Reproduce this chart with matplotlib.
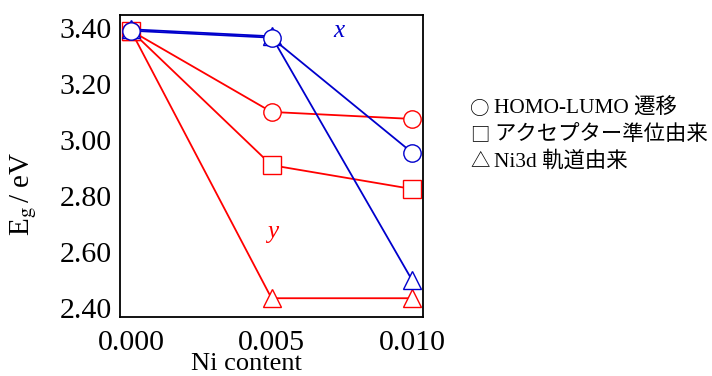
import matplotlib
matplotlib.use('Agg')
import matplotlib.pyplot as plt

# Ni content on x
ni = [0.000, 0.005, 0.010]

# y series (red)
y_homo = [3.39, 3.10, 3.075]
y_acc = [3.39, 2.91, 2.825]
y_ni3d = [3.39, 2.435, 2.435]

# x series (blue)
x_homo = [3.39, 3.365, 2.955]
x_ni3d = [3.395, 3.37, 2.50]

yticks = [2.40, 2.60, 2.80, 3.00, 3.20, 3.40]
xticks = [0.000, 0.005, 0.010]

legend_marks = ['○', '□', '△']
legend_texts = ['HOMO-LUMO 遷移', 'アクセプター準位由来', 'Ni3d 軌道由来']

plt.rcParams['font.family'] = ['Liberation Serif', 'Noto Sans CJK JP']
plt.rcParams['mathtext.fontset'] = 'stix'

W, H = 712, 376
fig = plt.figure(figsize=(W / 100, H / 100), dpi=100)
ax = fig.add_axes([120 / W, 1 - 317 / H, 303 / W, 302 / H])

mk = dict(ms=12.5, mfc='white', lw=1.3, mew=1.0, clip_on=False)
ax.plot(ni, y_ni3d, '-^', color='#ff0000', **mk)
ax.plot(ni, y_acc, '-s', color='#ff0000', **mk)
ax.plot(ni, y_homo, '-o', color='#ff0000', **mk)
ax.plot(ni, x_ni3d, '-^', color='#0000cc', **mk)
ax.plot(ni, x_homo, '-o', color='#0000cc', **mk)

ax.set_xlim(-0.000391, 0.010391)
ax.set_ylim(2.368, 3.446)
ax.set_xticks(xticks)
ax.set_xticklabels(['%.3f' % v for v in xticks])
ax.set_yticks(yticks)
ax.set_yticklabels(['%.2f' % v for v in yticks])
ax.tick_params(length=0, labelsize=21.5)
ax.tick_params(axis='x', pad=9)
ax.tick_params(axis='y', pad=6)
for s in ax.spines.values():
    s.set_linewidth(1.3)

# axis titles sit off-centre in the original
fig.text(246 / W, 1 - 364 / H, 'Ni content', fontsize=19, ha='center', va='center')
fig.text(24 / W, 1 - 194 / H, r'E$_{\rm g}\,$/ eV', fontsize=21, rotation=90,
         ha='center', va='center')

ax.text(0.0074, 3.39, 'x', color='#0000cc', fontsize=18, style='italic', ha='center', va='center')
ax.text(0.00505, 2.67, 'y', color='#ff0000', fontsize=18, style='italic', ha='center', va='center')

for i in range(3):
    yy = 1 - (109 + i * 26) / H
    fig.text(470 / W, yy, legend_marks[i], fontsize=14, va='center', ha='left',
             family=['Noto Sans CJK JP'])
    fig.text(494 / W, yy, legend_texts[i], fontsize=15.4, va='center', ha='left')

fig.savefig('out.png', dpi=100)
